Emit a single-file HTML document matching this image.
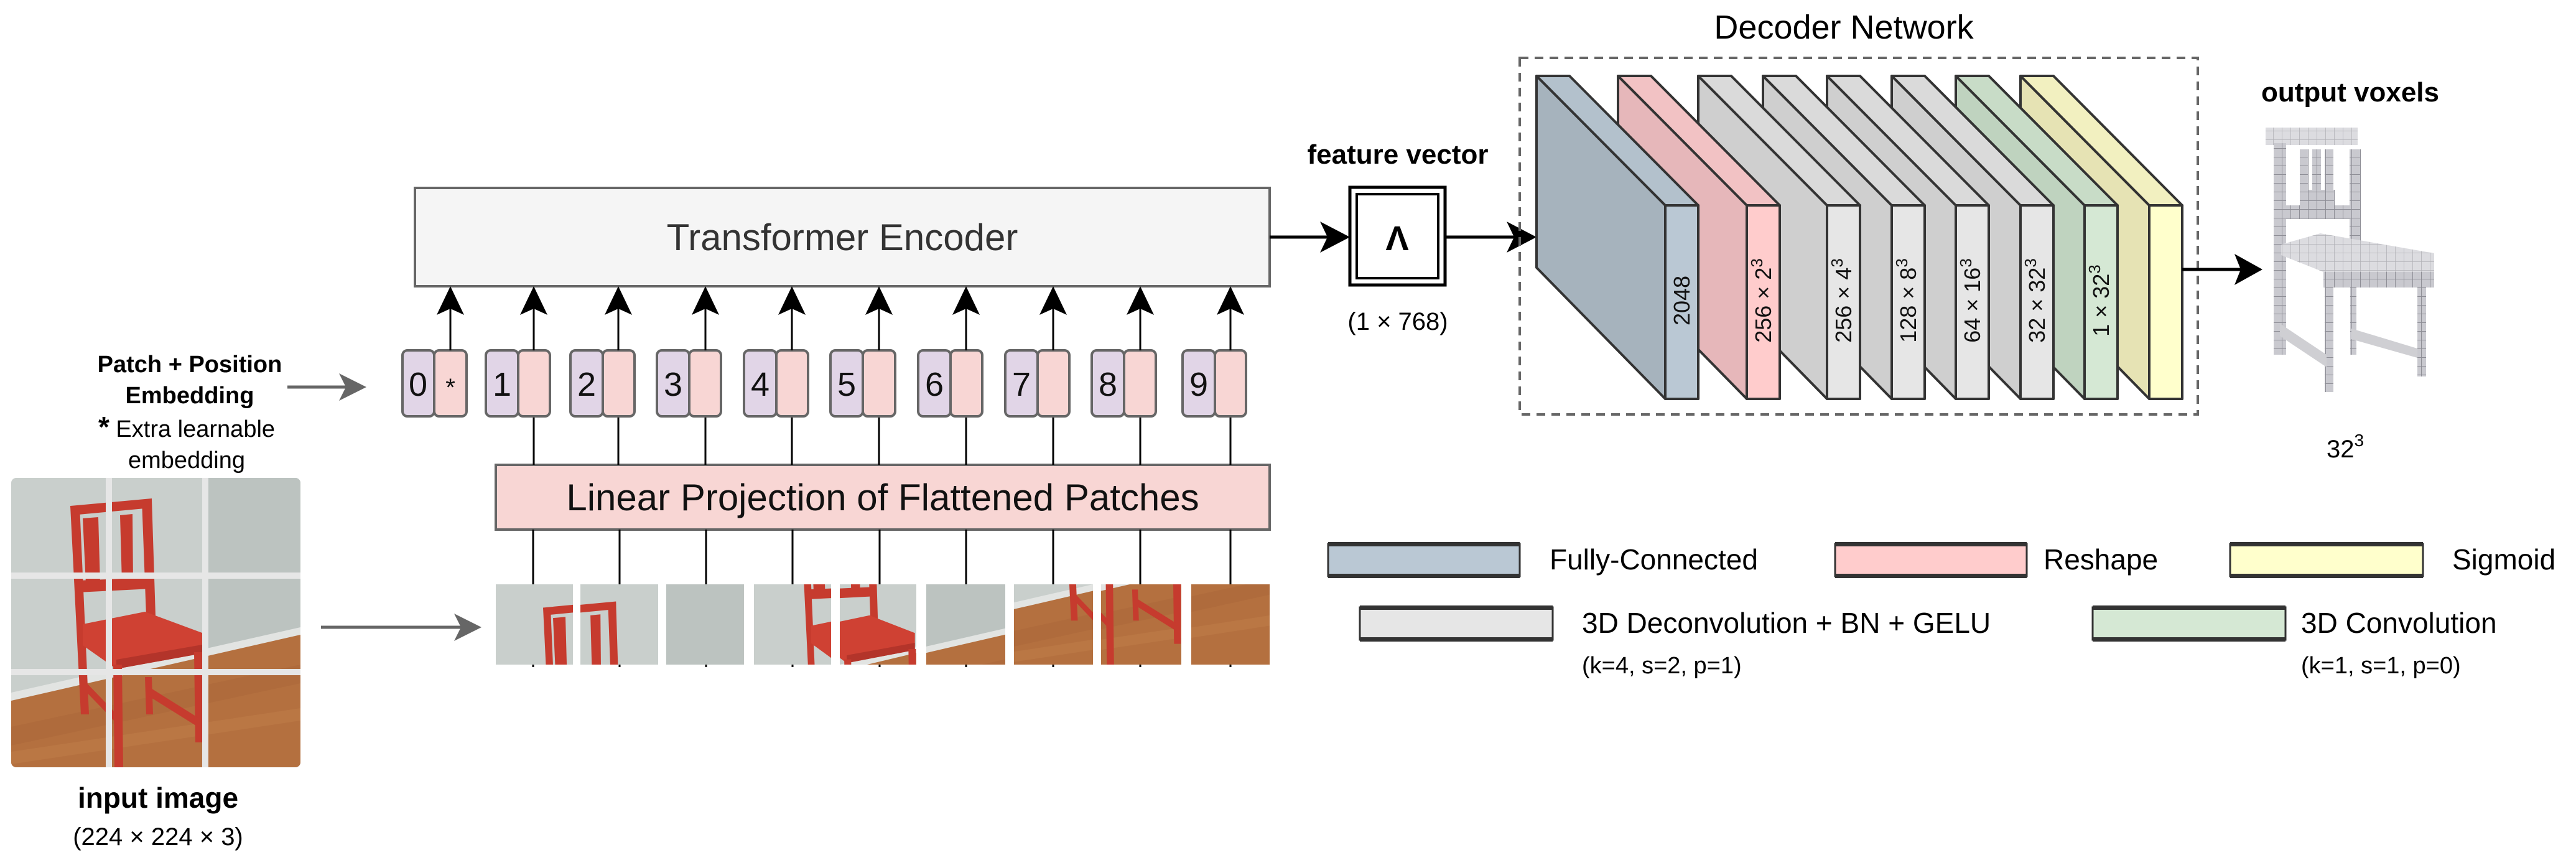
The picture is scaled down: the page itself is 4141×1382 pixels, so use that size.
<!DOCTYPE html>
<html><head><meta charset="utf-8"><style>
html,body{margin:0;padding:0;background:#fff;}
svg{display:block;}
text{font-family:"Liberation Sans",Arial,sans-serif;}
</style></head><body>
<svg width="4141" height="1382" viewBox="0 0 4141 1382" xmlns="http://www.w3.org/2000/svg">
<defs>
  <g id="img">
    <rect x="0" y="0" width="465" height="465" fill="#c9cfcc"/>
    <rect x="310" y="0" width="155" height="300" fill="#bcc3c0"/>
    <polygon points="0,355 465,248 465,465 0,465" fill="#b4703f"/>
    <polygon points="0,345 465,240 465,252 0,358" fill="#e2e4e2"/>
    <polygon points="0,400 465,300 465,330 0,430" fill="#a9653a" opacity="0.5"/>
    <polygon points="0,440 465,370 465,390 0,460" fill="#c07d4a" opacity="0.5"/>
    <g fill="#c63b2e">
      <polygon points="95,45 110,45 125,380 112,380"/>
      <polygon points="210,35 226,35 232,222 217,222"/>
      <polygon points="95,45 226,33 226,48 97,60"/>
      <polygon points="115,65 140,63 143,170 120,170"/>
      <polygon points="175,60 195,58 196,168 178,168"/>
      <polygon points="105,165 225,160 226,178 106,184"/>
      <polygon points="115,235 215,215 307,249 307,282 169,307 115,269" fill="#cf4133"/>
      <polygon points="169,292 307,268 307,282 169,307" fill="#b3342a"/>
      <polygon points="164,300 178,300 180,465 166,465"/>
      <polygon points="294,280 309,280 309,425 296,425"/>
      <polygon points="215,320 226,320 228,380 217,380"/>
      <polygon points="220,335 300,385 300,400 220,350"/>
      <polygon points="112,320 170,380 170,395 112,335"/>
    </g>
  </g>
  <pattern id="vox" width="14" height="14" patternUnits="userSpaceOnUse">
    <rect width="14" height="14" fill="#c9c9cf"/>
    <path d="M0 0H14M0 0V14" stroke="#8e8e96" stroke-width="2"/>
  </pattern>
  <pattern id="vox2" width="14" height="14" patternUnits="userSpaceOnUse">
    <rect width="14" height="14" fill="#dcdce0"/>
    <path d="M0 0H14M0 0V14" stroke="#b0b0b6" stroke-width="1.5"/>
  </pattern>
  <clipPath id="imgclip"><rect x="18" y="768" width="465" height="465" rx="8"/></clipPath>
  <clipPath id="p1"><rect x="797" y="939" width="124" height="129"/></clipPath>
  <clipPath id="p2"><rect x="933" y="939" width="125" height="129"/></clipPath>
  <clipPath id="p3"><rect x="1071" y="939" width="125" height="129"/></clipPath>
  <clipPath id="p4"><rect x="1212" y="939" width="124" height="129"/></clipPath>
  <clipPath id="p5"><rect x="1350" y="939" width="123" height="129"/></clipPath>
  <clipPath id="p6"><rect x="1489" y="939" width="127" height="129"/></clipPath>
  <clipPath id="p7"><rect x="1630" y="939" width="127" height="129"/></clipPath>
  <clipPath id="p8"><rect x="1770" y="939" width="129" height="129"/></clipPath>
  <clipPath id="p9"><rect x="1915" y="939" width="126" height="129"/></clipPath>
</defs>

<rect x="667" y="302" width="1374" height="158" fill="#f5f5f5" stroke="#666" stroke-width="4"/>
<text x="1354" y="402" font-size="60" text-anchor="middle" fill="#333">Transformer Encoder</text>

<rect x="797" y="747" width="1244" height="104" fill="#f8d6d4" stroke="#666" stroke-width="4"/>
<text x="1419" y="820" font-size="60" text-anchor="middle" fill="#111">Linear Projection of Flattened Patches</text>

<g stroke="#000" stroke-width="3">
  <line x1="857" y1="851" x2="857" y2="1072"/><line x1="996" y1="851" x2="996" y2="1072"/>
  <line x1="1135" y1="851" x2="1135" y2="1072"/><line x1="1274" y1="851" x2="1274" y2="1072"/>
  <line x1="1414" y1="851" x2="1414" y2="1072"/><line x1="1553" y1="851" x2="1553" y2="1072"/>
  <line x1="1693" y1="851" x2="1693" y2="1072"/><line x1="1833" y1="851" x2="1833" y2="1072"/>
  <line x1="1978" y1="851" x2="1978" y2="1072"/>
  <line x1="858" y1="669" x2="858" y2="747"/><line x1="994" y1="669" x2="994" y2="747"/>
  <line x1="1134" y1="669" x2="1134" y2="747"/><line x1="1273" y1="669" x2="1273" y2="747"/>
  <line x1="1413" y1="669" x2="1413" y2="747"/><line x1="1553" y1="669" x2="1553" y2="747"/>
  <line x1="1693" y1="669" x2="1693" y2="747"/><line x1="1833" y1="669" x2="1833" y2="747"/>
  <line x1="1978" y1="669" x2="1978" y2="747"/>
</g>

<g stroke="#666" stroke-width="4">
  <rect x="647" y="563" width="51" height="106" rx="8" fill="#e1d5e7"/><rect x="698" y="563" width="52" height="106" rx="8" fill="#f8d6d4"/>
  <rect x="781" y="563" width="52" height="106" rx="8" fill="#e1d5e7"/><rect x="833" y="563" width="51" height="106" rx="8" fill="#f8d6d4"/>
  <rect x="917" y="563" width="52" height="106" rx="8" fill="#e1d5e7"/><rect x="969" y="563" width="51" height="106" rx="8" fill="#f8d6d4"/>
  <rect x="1056" y="563" width="52" height="106" rx="8" fill="#e1d5e7"/><rect x="1108" y="563" width="51" height="106" rx="8" fill="#f8d6d4"/>
  <rect x="1196" y="563" width="52" height="106" rx="8" fill="#e1d5e7"/><rect x="1248" y="563" width="51" height="106" rx="8" fill="#f8d6d4"/>
  <rect x="1335" y="563" width="52" height="106" rx="8" fill="#e1d5e7"/><rect x="1387" y="563" width="52" height="106" rx="8" fill="#f8d6d4"/>
  <rect x="1476" y="563" width="52" height="106" rx="8" fill="#e1d5e7"/><rect x="1528" y="563" width="51" height="106" rx="8" fill="#f8d6d4"/>
  <rect x="1616" y="563" width="52" height="106" rx="8" fill="#e1d5e7"/><rect x="1668" y="563" width="51" height="106" rx="8" fill="#f8d6d4"/>
  <rect x="1755" y="563" width="52" height="106" rx="8" fill="#e1d5e7"/><rect x="1807" y="563" width="51" height="106" rx="8" fill="#f8d6d4"/>
  <rect x="1901" y="563" width="52" height="106" rx="8" fill="#e1d5e7"/><rect x="1953" y="563" width="50" height="106" rx="8" fill="#f8d6d4"/>
</g>
<g font-size="54" text-anchor="middle" fill="#111">
  <text x="672" y="636">0</text><text x="724" y="636" font-size="40">*</text>
  <text x="807" y="636">1</text><text x="943" y="636">2</text><text x="1082" y="636">3</text>
  <text x="1222" y="636">4</text><text x="1361" y="636">5</text><text x="1502" y="636">6</text>
  <text x="1642" y="636">7</text><text x="1781" y="636">8</text><text x="1927" y="636">9</text>
</g>

<g stroke="#000" stroke-width="3">
  <line x1="724" y1="563" x2="724" y2="490"/><line x1="858" y1="563" x2="858" y2="490"/>
  <line x1="994" y1="563" x2="994" y2="490"/><line x1="1134" y1="563" x2="1134" y2="490"/>
  <line x1="1273" y1="563" x2="1273" y2="490"/><line x1="1413" y1="563" x2="1413" y2="490"/>
  <line x1="1553" y1="563" x2="1553" y2="490"/><line x1="1693" y1="563" x2="1693" y2="490"/>
  <line x1="1833" y1="563" x2="1833" y2="490"/><line x1="1978" y1="563" x2="1978" y2="490"/>
</g>
<g fill="#000">
  <polygon points="724,460 746,506 724,496 702,506"/><polygon points="858,460 880,506 858,496 836,506"/>
  <polygon points="994,460 1016,506 994,496 972,506"/><polygon points="1134,460 1156,506 1134,496 1112,506"/>
  <polygon points="1273,460 1295,506 1273,496 1251,506"/><polygon points="1413,460 1435,506 1413,496 1391,506"/>
  <polygon points="1553,460 1575,506 1553,496 1531,506"/><polygon points="1693,460 1715,506 1693,496 1671,506"/>
  <polygon points="1833,460 1855,506 1833,496 1811,506"/><polygon points="1978,460 2000,506 1978,496 1956,506"/>
</g>

<g clip-path="url(#p1)"><use href="#img" transform="translate(797,939) scale(0.8,0.832)"/></g>
<g clip-path="url(#p2)"><use href="#img" transform="translate(933,939) scale(0.806,0.832) translate(-155,0)"/></g>
<g clip-path="url(#p3)"><use href="#img" transform="translate(1071,939) scale(0.806,0.832) translate(-310,0)"/></g>
<g clip-path="url(#p4)"><use href="#img" transform="translate(1212,939) scale(0.8,0.832) translate(0,-155)"/></g>
<g clip-path="url(#p5)"><use href="#img" transform="translate(1350,939) scale(0.794,0.832) translate(-155,-155)"/></g>
<g clip-path="url(#p6)"><use href="#img" transform="translate(1489,939) scale(0.82,0.832) translate(-310,-155)"/></g>
<g clip-path="url(#p7)"><use href="#img" transform="translate(1630,939) scale(0.82,0.832) translate(0,-310)"/></g>
<g clip-path="url(#p8)"><use href="#img" transform="translate(1770,939) scale(0.832,0.832) translate(-155,-310)"/></g>
<g clip-path="url(#p9)"><use href="#img" transform="translate(1915,939) scale(0.813,0.832) translate(-310,-310)"/></g>

<g clip-path="url(#imgclip)"><use href="#img" transform="translate(18,768)"/></g>
<g fill="#e6e6e6">
  <rect x="170" y="768" width="10" height="465"/><rect x="325" y="768" width="10" height="465"/>
  <rect x="18" y="920" width="465" height="10"/><rect x="18" y="1075" width="465" height="10"/>
</g>
<text x="254" y="1298" font-size="46" font-weight="bold" text-anchor="middle" fill="#000">input image</text>
<text x="254" y="1358" font-size="40" text-anchor="middle" fill="#000">(224 × 224 × 3)</text>

<g text-anchor="middle" fill="#000">
  <text x="305" y="598" font-size="38" font-weight="bold">Patch + Position</text>
  <text x="305" y="648" font-size="38" font-weight="bold">Embedding</text>
  <text x="300" y="702" font-size="38"><tspan font-weight="bold" font-size="46">*</tspan> Extra learnable</text>
  <text x="300" y="752" font-size="38">embedding</text>
</g>
<g stroke="#666" stroke-width="5" fill="#666">
  <line x1="462" y1="622" x2="560" y2="622"/><polygon points="589,622 545,600 556,622 545,644" stroke="none"/>
  <line x1="516" y1="1008" x2="745" y2="1008"/><polygon points="774,1008 730,986 741,1008 730,1030" stroke="none"/>
</g>

<g stroke="#000" stroke-width="5"><line x1="2041" y1="381" x2="2140" y2="381"/><line x1="2323" y1="381" x2="2440" y2="381"/></g>
<polygon points="2170,381 2122,356 2134,381 2122,406" fill="#000"/>
<polygon points="2470,381 2422,356 2434,381 2422,406" fill="#000"/>
<rect x="2170" y="301" width="153" height="157" fill="#fff" stroke="#000" stroke-width="5"/>
<rect x="2181" y="312" width="131" height="135" fill="none" stroke="#000" stroke-width="4"/>
<text x="2246" y="402" font-size="56" font-weight="bold" text-anchor="middle" fill="#000">Λ</text>
<text x="2247" y="263" font-size="44" font-weight="bold" text-anchor="middle" fill="#000">feature vector</text>
<text x="2247" y="530" font-size="40" text-anchor="middle" fill="#000">(1 × 768)</text>

<text x="2964" y="62" font-size="54" text-anchor="middle" fill="#000">Decoder Network</text>
<rect x="2443" y="93" width="1090" height="573" fill="none" stroke="#666" stroke-width="4" stroke-dasharray="14,10"/>

<g stroke="#333" stroke-width="4" stroke-linejoin="round">
  <polygon points="3248,122 3455,330 3455,641 3248,430" fill="#e6e3b4"/>
  <polygon points="3248,122 3301,122 3508,330 3455,330" fill="#f2f0c0"/>
  <rect x="3455" y="330" width="53" height="311" fill="#ffffcc"/>
  <polygon points="3144,122 3351,330 3351,641 3144,430" fill="#bfd3bf"/>
  <polygon points="3144,122 3197,122 3404,330 3351,330" fill="#c8dcc7"/>
  <rect x="3351" y="330" width="53" height="311" fill="#d5e8d4"/>
  <polygon points="3041,122 3248,330 3248,641 3041,430" fill="#cfcfcf"/>
  <polygon points="3041,122 3094,122 3301,330 3248,330" fill="#dadada"/>
  <rect x="3248" y="330" width="53" height="311" fill="#e6e6e6"/>
  <polygon points="2937,122 3144,330 3144,641 2937,430" fill="#cfcfcf"/>
  <polygon points="2937,122 2990,122 3197,330 3144,330" fill="#dadada"/>
  <rect x="3144" y="330" width="53" height="311" fill="#e6e6e6"/>
  <polygon points="2834,122 3041,330 3041,641 2834,430" fill="#cfcfcf"/>
  <polygon points="2834,122 2887,122 3094,330 3041,330" fill="#dadada"/>
  <rect x="3041" y="330" width="53" height="311" fill="#e6e6e6"/>
  <polygon points="2730,122 2937,330 2937,641 2730,430" fill="#cfcfcf"/>
  <polygon points="2730,122 2783,122 2990,330 2937,330" fill="#dadada"/>
  <rect x="2937" y="330" width="53" height="311" fill="#e6e6e6"/>
  <polygon points="2601,122 2808,330 2808,641 2601,430" fill="#e6b7ba"/>
  <polygon points="2601,122 2654,122 2861,330 2808,330" fill="#f2c2c4"/>
  <rect x="2808" y="330" width="53" height="311" fill="#ffcccc"/>
  <polygon points="2470,122 2677,330 2677,641 2470,430" fill="#a6b3bd"/>
  <polygon points="2470,122 2523,122 2730,330 2677,330" fill="#b3c1cc"/>
  <rect x="2677" y="330" width="53" height="311" fill="#bac8d4"/>
</g>
<g font-size="36" text-anchor="middle" fill="#111">
  <text transform="translate(2716,483) rotate(-90)">2048</text>
  <text transform="translate(2847,483) rotate(-90)">256 × 2<tspan font-size="26" dy="-14">3</tspan></text>
  <text transform="translate(2976,483) rotate(-90)">256 × 4<tspan font-size="26" dy="-14">3</tspan></text>
  <text transform="translate(3080,483) rotate(-90)">128 × 8<tspan font-size="26" dy="-14">3</tspan></text>
  <text transform="translate(3183,483) rotate(-90)">64 × 16<tspan font-size="26" dy="-14">3</tspan></text>
  <text transform="translate(3287,483) rotate(-90)">32 × 32<tspan font-size="26" dy="-14">3</tspan></text>
  <text transform="translate(3390,483) rotate(-90)">1 × 32<tspan font-size="26" dy="-14">3</tspan></text>
</g>

<line x1="3508" y1="433" x2="3610" y2="433" stroke="#000" stroke-width="5"/>
<polygon points="3637,433 3592,408 3602,433 3592,458" fill="#000"/>
<text x="3778" y="163" font-size="44" font-weight="bold" text-anchor="middle" fill="#000">output voxels</text>
<text x="3770" y="735" font-size="40" text-anchor="middle" fill="#000">32<tspan font-size="28" dy="-18">3</tspan></text>

<g>
  <rect x="3642" y="205" width="148" height="28" fill="url(#vox2)"/>
  <rect x="3655" y="230" width="20" height="340" fill="url(#vox)"/>
  <rect x="3777" y="240" width="18" height="150" fill="url(#vox)"/>
  <rect x="3697" y="240" width="14" height="100" fill="url(#vox)"/>
  <rect x="3717" y="240" width="14" height="95" fill="url(#vox)"/>
  <rect x="3737" y="240" width="14" height="100" fill="url(#vox)"/>
  <rect x="3705" y="305" width="48" height="30" fill="url(#vox)"/>
  <rect x="3670" y="330" width="120" height="22" fill="url(#vox)"/>
  <polygon points="3667,393 3730,375 3913,407 3913,437 3735,437 3667,410" fill="url(#vox2)"/>
  <rect x="3735" y="437" width="178" height="25" fill="url(#vox)"/>
  <rect x="3737" y="460" width="14" height="170" fill="url(#vox)"/>
  <rect x="3886" y="460" width="14" height="145" fill="url(#vox)"/>
  <rect x="3778" y="460" width="10" height="110" fill="url(#vox)"/>
  <polygon points="3780,528 3886,560 3886,575 3780,545" fill="#cfcfd3"/>
  <polygon points="3665,520 3740,570 3740,590 3665,540" fill="#cfcfd3"/>
</g>

<g stroke="#333" stroke-width="3">
  <rect x="2135" y="874" width="308" height="52" fill="#bac8d4"/>
  <rect x="2950" y="874" width="308" height="52" fill="#ffcccc"/>
  <rect x="3585" y="874" width="310" height="52" fill="#ffffcc"/>
  <rect x="2186" y="976" width="310" height="52" fill="#e6e6e6"/>
  <rect x="3364" y="976" width="310" height="52" fill="#d5e8d4"/>
</g>
<g fill="#333">
  <rect x="2135" y="871" width="308" height="7"/><rect x="2135" y="922" width="308" height="7"/>
  <rect x="2950" y="871" width="308" height="7"/><rect x="2950" y="922" width="308" height="7"/>
  <rect x="3585" y="871" width="310" height="7"/><rect x="3585" y="922" width="310" height="7"/>
  <rect x="2186" y="973" width="310" height="7"/><rect x="2186" y="1024" width="310" height="7"/>
  <rect x="3364" y="973" width="310" height="7"/><rect x="3364" y="1024" width="310" height="7"/>
</g>
<g font-size="46" fill="#000">
  <text x="2491" y="915">Fully-Connected</text>
  <text x="3285" y="915">Reshape</text>
  <text x="3942" y="915">Sigmoid</text>
  <text x="2543" y="1017">3D Deconvolution + BN + GELU</text>
  <text x="3699" y="1017">3D Convolution</text>
  <text x="2543" y="1082" font-size="38">(k=4, s=2, p=1)</text>
  <text x="3699" y="1082" font-size="38">(k=1, s=1, p=0)</text>
</g>
</svg>
</body></html>
